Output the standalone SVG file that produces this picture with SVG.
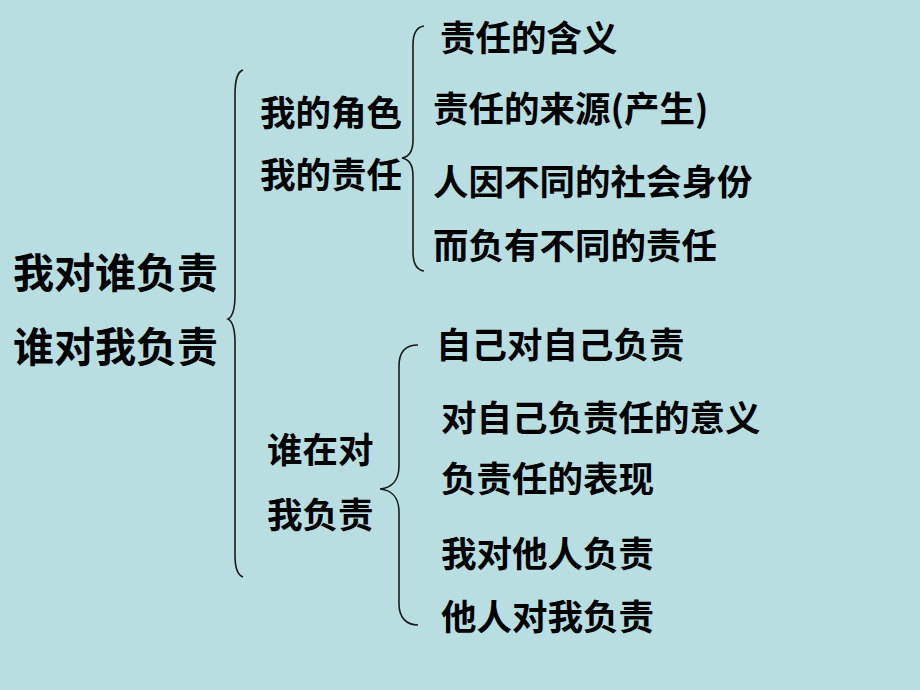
<svg xmlns="http://www.w3.org/2000/svg" width="920" height="690" viewBox="0 0 920 690">
<style>
.t{font-family:"Noto Sans CJK SC","Noto Sans CJK TC",sans-serif;font-weight:bold;fill:#000;}
.m{font-size:35.5px;}
.l{font-size:41px;}
.b{fill:none;stroke:#1a1a1a;stroke-width:1.6;}
</style>
<rect width="920" height="690" fill="#B8DEE1"/>
<g id="connectors">
<path class="b" d="M243,70 C237,72 235,80 235,95 L235,295 C235,310 232,317 228,319 C232,321 235,328 235,343 L235,555 C235,568 237,575 243,577"/>
<path class="b" d="M424,26 C417,27 413,33 413,45 L413,140 C413,152 408,157 402,158 C408,159 413,164 413,176 L413,252 C413,264 417,270 424,271"/>
<path class="b" d="M418,345 C406,345 399,352 399,366 L399,466 C399,481 391,488 380,489 C391,490 399,497 399,512 L399,604 C399,617 406,625 418,625"/>
</g>
<g id="root"><text class="t l" x="13" y="288">我对谁负责</text><text class="t l" x="13" y="362">谁对我负责</text></g>
<g id="role"><text class="t m" x="260" y="126">我的角色</text><text class="t m" x="260" y="188">我的责任</text></g>
<g id="who"><text class="t m" x="267" y="463">谁在对</text><text class="t m" x="267" y="528">我负责</text></g>
<g id="meaning"><text class="t m" x="440" y="51">责任的含义</text></g>
<g id="source"><text class="t m" x="433" y="122">责任的来源(产生)</text></g>
<g id="identity"><text class="t m" x="433" y="195">人因不同的社会身份</text><text class="t m" x="433" y="259">而负有不同的责任</text></g>
<g id="self"><text class="t m" x="436" y="358">自己对自己负责</text></g>
<g id="self-meaning"><text class="t m" x="441" y="431">对自己负责任的意义</text></g>
<g id="self-show"><text class="t m" x="441" y="492">负责任的表现</text></g>
<g id="others"><text class="t m" x="441" y="567">我对他人负责</text></g>
<g id="others-me"><text class="t m" x="441" y="630">他人对我负责</text></g>
</svg>
